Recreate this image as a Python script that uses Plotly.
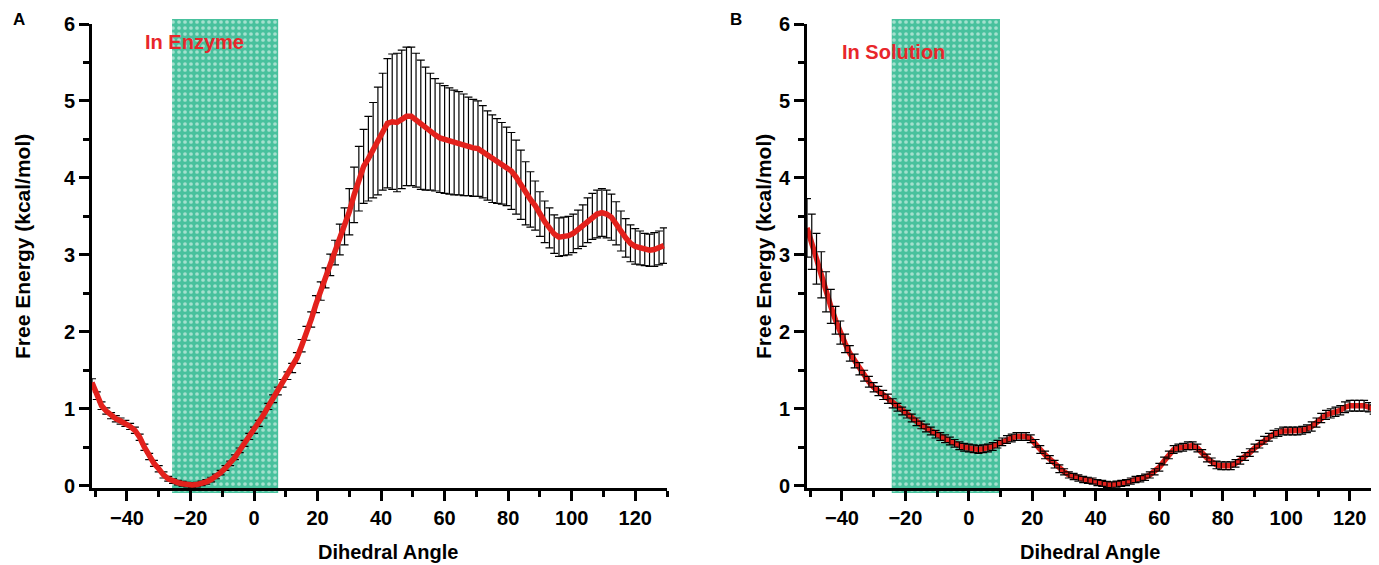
import plotly.graph_objects as go

# ---------------- data ----------------
ANGLES = [-51 + 1.5 * i for i in range(121)]

ENZ_MEAN = [
    1.34, 1.17, 1.04, 0.97, 0.91, 0.87, 0.84, 0.81, 0.77, 0.72,
    0.63, 0.50, 0.38, 0.29, 0.22, 0.14, 0.09, 0.06, 0.04, 0.025,
    0.015, 0.01, 0.015, 0.03, 0.05, 0.08, 0.12, 0.17, 0.23, 0.29,
    0.37, 0.46, 0.55, 0.64, 0.72, 0.81, 0.92, 1.03, 1.13, 1.23,
    1.33, 1.43, 1.53, 1.66, 1.82, 1.98, 2.16, 2.36, 2.53, 2.70,
    2.87, 3.03, 3.20, 3.37, 3.56, 3.78, 3.99, 4.15, 4.25, 4.36,
    4.48, 4.60, 4.71, 4.73, 4.72, 4.76, 4.80, 4.80, 4.75, 4.69,
    4.64, 4.60, 4.56, 4.52, 4.50, 4.48, 4.46, 4.45, 4.43, 4.41,
    4.39, 4.38, 4.34, 4.29, 4.25, 4.22, 4.19, 4.15, 4.09, 4.01,
    3.91, 3.80, 3.72, 3.64, 3.53, 3.43, 3.35, 3.27, 3.23, 3.24,
    3.25, 3.28, 3.33, 3.38, 3.45, 3.50, 3.53, 3.55, 3.53, 3.49,
    3.41, 3.31, 3.22, 3.15, 3.11, 3.09, 3.07, 3.06, 3.07, 3.09,
    3.12,
]
ENZ_ERR = [
    0.05, 0.05, 0.05, 0.04, 0.04, 0.04, 0.04, 0.04, 0.04, 0.04,
    0.04, 0.04, 0.04, 0.04, 0.04, 0.04, 0.03, 0.03, 0.03, 0.03,
    0.03, 0.03, 0.03, 0.03, 0.03, 0.03, 0.03, 0.03, 0.03, 0.03,
    0.03, 0.03, 0.04, 0.04, 0.04, 0.04, 0.04, 0.04, 0.05, 0.05,
    0.05, 0.05, 0.06, 0.07, 0.08, 0.09, 0.10, 0.11, 0.12, 0.13,
    0.14, 0.16, 0.20, 0.24, 0.30, 0.36, 0.42, 0.48, 0.55, 0.62,
    0.70, 0.76, 0.84, 0.88, 0.90, 0.90, 0.90, 0.90, 0.87, 0.84,
    0.80, 0.76, 0.73, 0.71, 0.70, 0.69, 0.68, 0.67, 0.66, 0.64,
    0.63, 0.62, 0.60, 0.58, 0.57, 0.55, 0.53, 0.51, 0.50, 0.48,
    0.45, 0.41, 0.36, 0.32, 0.29, 0.27, 0.26, 0.25, 0.25, 0.25,
    0.25, 0.25, 0.25, 0.27, 0.29, 0.30, 0.31, 0.31, 0.31, 0.30,
    0.28, 0.26, 0.25, 0.24, 0.23, 0.22, 0.21, 0.21, 0.22, 0.22,
    0.23,
]
SOL_MEAN = [
    3.35, 3.17, 2.95, 2.74, 2.52, 2.33, 2.15, 1.99, 1.85, 1.72,
    1.62, 1.52, 1.43, 1.35, 1.28, 1.23, 1.18, 1.13, 1.07, 1.02,
    0.97, 0.93, 0.88, 0.83, 0.79, 0.75, 0.71, 0.67, 0.64, 0.61,
    0.58, 0.55, 0.52, 0.50, 0.49, 0.48, 0.47, 0.48, 0.49, 0.51,
    0.54, 0.57, 0.60, 0.62, 0.64, 0.64, 0.64, 0.61, 0.55, 0.47,
    0.40, 0.34, 0.28, 0.22, 0.18, 0.14, 0.12, 0.10, 0.08, 0.07,
    0.06, 0.04, 0.03, 0.015, 0.01, 0.02, 0.03, 0.04, 0.06, 0.08,
    0.09, 0.11, 0.14, 0.18, 0.24, 0.32, 0.40, 0.47, 0.49, 0.50,
    0.52, 0.52, 0.49, 0.42, 0.36, 0.31, 0.27, 0.26, 0.26, 0.26,
    0.29, 0.33, 0.38, 0.43, 0.49, 0.54, 0.59, 0.63, 0.67, 0.69,
    0.71, 0.71, 0.71, 0.71, 0.72, 0.74, 0.77, 0.82, 0.88, 0.92,
    0.94, 0.96, 0.98, 1.02, 1.04, 1.04, 1.04, 1.04, 1.02, 0.99,
    1.00,
]
SOL_ERR = [
    0.38, 0.36, 0.33, 0.30, 0.26, 0.22, 0.18, 0.15, 0.12, 0.10,
    0.09, 0.08, 0.07, 0.07, 0.06, 0.06, 0.06, 0.06, 0.06, 0.05,
    0.05, 0.05, 0.05, 0.05, 0.05, 0.05, 0.05, 0.05, 0.05, 0.05,
    0.05, 0.05, 0.05, 0.05, 0.05, 0.05, 0.05, 0.05, 0.05, 0.05,
    0.05, 0.05, 0.05, 0.05, 0.05, 0.05, 0.05, 0.05, 0.05, 0.05,
    0.05, 0.05, 0.05, 0.05, 0.04, 0.04, 0.04, 0.04, 0.04, 0.04,
    0.04, 0.04, 0.04, 0.04, 0.04, 0.04, 0.04, 0.04, 0.04, 0.04,
    0.04, 0.04, 0.04, 0.04, 0.05, 0.05, 0.05, 0.05, 0.05, 0.05,
    0.05, 0.05, 0.05, 0.05, 0.05, 0.05, 0.05, 0.05, 0.05, 0.05,
    0.05, 0.05, 0.05, 0.05, 0.05, 0.05, 0.05, 0.05, 0.05, 0.05,
    0.05, 0.05, 0.05, 0.05, 0.05, 0.05, 0.06, 0.06, 0.06, 0.06,
    0.06, 0.06, 0.06, 0.07, 0.07, 0.07, 0.07, 0.07, 0.06, 0.06,
    0.06,
]

SHADE_ENZ = [-25.8, 7.6]
SHADE_SOL = [-24.3, 9.8]
PANEL_LABELS = ["A", "B"]
PANEL_TEXT = ["In Enzyme", "In Solution"]
X_TITLE = "Dihedral Angle"
Y_TITLE = "Free Energy (kcal/mol)"

# ---------------- style ----------------
# the page has an 8px body margin, so the figure is 8px smaller on each axis
OFF = 8
W, H = 1379 - OFF, 565 - OFF
ML, MR, MT, MB = 92 - OFF, 0, 19 - OFF, 565 - 493
PW, PH = W - ML - MR, H - MT - MB
FONT = "Liberation Sans"
RED = "#e3211c"
TEAL = "#48c19d"
XDOM_A = [0, (667 - 92) / PW]
XDOM_B = [(807 - 92) / PW, 1]
YDOM = [(493 - 488) / PH, (493 - 24) / PH]
XR_A = [-51, 130]
XR_B = [-51, 129.2]
YR = [-0.03, 6]


def rx(p):
    """reference-picture pixel x -> paper fraction"""
    return (p - OFF - ML) / PW


def ry(p):
    """reference-picture pixel y -> paper fraction"""
    return (MT + PH - (p - OFF)) / PH


fig = go.Figure()

# shaded windows (on extended invisible axes so they overhang the frame a little)
for (x0, x1), xa, ya in [(SHADE_ENZ, "x", "y"), (SHADE_SOL, "x2", "y2")]:
    fig.add_trace(go.Scatter(
        x=[x0, x1, x1, x0, x0], y=[0, 0, 1, 1, 0],
        mode="lines", fill="toself", line=dict(width=0, color="rgba(0,0,0,0)"),
        fillcolor=TEAL,
        fillpattern=dict(shape=".", bgcolor=TEAL, fgcolor="white", size=6, solidity=0.3),
        xaxis=xa, yaxis=ya, hoverinfo="skip", showlegend=False,
    ))

err_style = dict(type="data", color="black", thickness=1.2, width=4, visible=True)

# panel A: error bars under the curve
fig.add_trace(go.Scatter(
    x=ANGLES, y=ENZ_MEAN, mode="markers",
    marker=dict(size=1, color="rgba(0,0,0,0)"),
    error_y=dict(array=ENZ_ERR, **err_style),
    xaxis="x3", yaxis="y3", showlegend=False, hoverinfo="skip",
))
fig.add_trace(go.Scatter(
    x=ANGLES, y=ENZ_MEAN, mode="lines", line=dict(color=RED, width=5.5),
    xaxis="x3", yaxis="y3", showlegend=False,
))

# panel B: curve then error bars on top
fig.add_trace(go.Scatter(
    x=ANGLES, y=SOL_MEAN, mode="lines", line=dict(color=RED, width=5.5),
    xaxis="x4", yaxis="y4", showlegend=False,
))
fig.add_trace(go.Scatter(
    x=ANGLES, y=SOL_MEAN, mode="markers",
    marker=dict(size=1, color="rgba(0,0,0,0)"),
    error_y=dict(array=SOL_ERR, **err_style),
    xaxis="x4", yaxis="y4", showlegend=False, hoverinfo="skip",
))

tickfont = dict(family=FONT, size=20, color="black", weight="bold")
xcommon = dict(
    showline=True, linewidth=3, linecolor="black", mirror=False,
    ticks="outside", ticklen=10, tickwidth=3, tickcolor="black",
    tickmode="linear", tick0=-40, dtick=20, tickfont=tickfont,
    showgrid=False, zeroline=False,
    minor=dict(tickmode="linear", tick0=-50, dtick=10, ticks="outside",
               ticklen=6, tickwidth=2.5, tickcolor="black", showgrid=False),
)
ycommon = dict(
    showline=True, linewidth=3, linecolor="black", mirror=False,
    ticks="outside", ticklen=10, tickwidth=3, tickcolor="black",
    tickmode="linear", tick0=0, dtick=1, tickfont=tickfont,
    showgrid=False, zeroline=False, range=YR, domain=YDOM,
    minor=dict(tickmode="linear", tick0=0, dtick=0.5, ticks="outside",
               ticklen=6, tickwidth=2.5, tickcolor="black", showgrid=False),
)
hidden = dict(visible=False, showgrid=False, zeroline=False, fixedrange=True)

fig.update_layout(
    width=W, height=H,
    margin=dict(l=ML, r=MR, t=MT, b=MB, pad=0),
    paper_bgcolor="white", plot_bgcolor="rgba(0,0,0,0)",
    showlegend=False,
    xaxis=dict(domain=XDOM_A, range=XR_A, anchor="y", **hidden),
    yaxis=dict(domain=[0, 1], range=[0, 1], anchor="x", **hidden),
    xaxis2=dict(domain=XDOM_B, range=XR_B, anchor="y2", **hidden),
    yaxis2=dict(domain=[0, 1], range=[0, 1], anchor="x2", **hidden),
    xaxis3=dict(domain=XDOM_A, range=XR_A, anchor="y3", **xcommon),
    yaxis3=dict(anchor="x3", **ycommon),
    xaxis4=dict(domain=XDOM_B, range=XR_B, anchor="y4", **xcommon),
    yaxis4=dict(anchor="x4", **ycommon),
)

lab_font = dict(family=FONT, size=17, color="black", weight="bold")
red_font = dict(family=FONT, size=20, color="#e8262b", weight="bold")
title_font = dict(family=FONT, size=20, color="black", weight="bold")
ytitle_font = dict(family=FONT, size=21, color="black", weight="bold")
ann = [
    dict(text=PANEL_LABELS[0], x=rx(19), y=ry(20), xref="paper", yref="paper",
         showarrow=False, font=lab_font, xanchor="center", yanchor="middle"),
    dict(text=PANEL_LABELS[1], x=rx(736), y=ry(19), xref="paper", yref="paper",
         showarrow=False, font=lab_font, xanchor="center", yanchor="middle"),
    dict(text=PANEL_TEXT[0], x=-18.6, y=5.77, xref="x3", yref="y3",
         showarrow=False, font=red_font, xanchor="center", yanchor="middle"),
    dict(text=PANEL_TEXT[1], x=-23.9, y=5.64, xref="x4", yref="y4",
         showarrow=False, font=red_font, xanchor="center", yanchor="middle"),
    dict(text=Y_TITLE, x=rx(22), y=ry(247), xref="paper", yref="paper",
         showarrow=False, font=ytitle_font, textangle=-90, xanchor="center", yanchor="middle"),
    dict(text=Y_TITLE, x=rx(763), y=ry(247), xref="paper", yref="paper",
         showarrow=False, font=ytitle_font, textangle=-90, xanchor="center", yanchor="middle"),
    dict(text=X_TITLE, x=rx(388), y=ry(552), xref="paper", yref="paper",
         showarrow=False, font=title_font, xanchor="center", yanchor="middle"),
    dict(text=X_TITLE, x=rx(1090), y=ry(552), xref="paper", yref="paper",
         showarrow=False, font=title_font, xanchor="center", yanchor="middle"),
]
fig.update_layout(annotations=ann)

fig.write_html("out.html")
